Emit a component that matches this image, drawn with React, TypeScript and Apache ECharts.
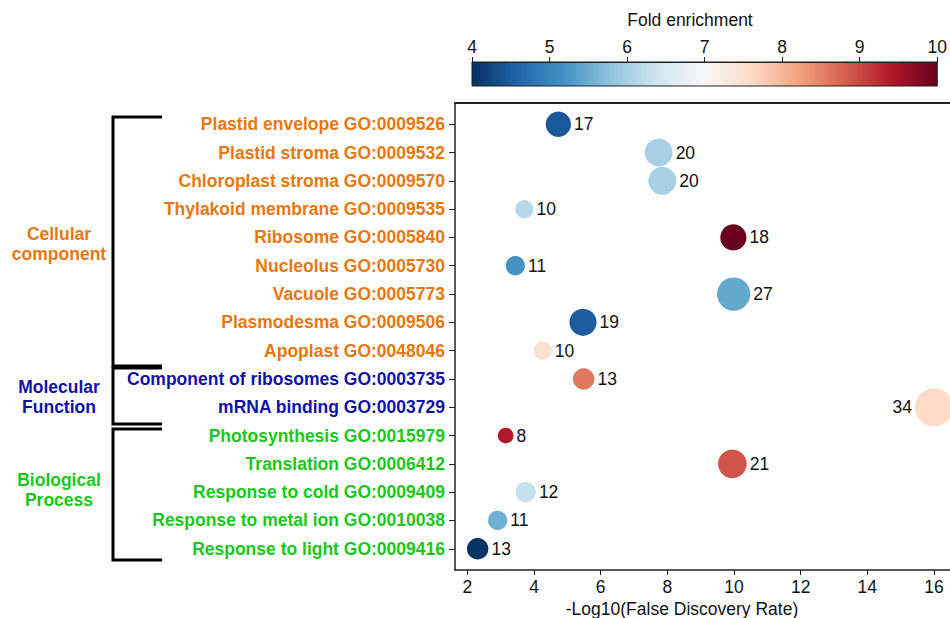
import React, { useEffect, useRef } from 'react';
import * as echarts from 'echarts';

const categories = [
  'Plastid envelope GO:0009526',
  'Plastid stroma GO:0009532',
  'Chloroplast stroma GO:0009570',
  'Thylakoid membrane GO:0009535',
  'Ribosome GO:0005840',
  'Nucleolus GO:0005730',
  'Vacuole GO:0005773',
  'Plasmodesma GO:0009506',
  'Apoplast GO:0048046',
  'Component of ribosomes GO:0003735',
  'mRNA binding GO:0003729',
  'Photosynthesis GO:0015979',
  'Translation GO:0006412',
  'Response to cold GO:0009409',
  'Response to metal ion GO:0010038',
  'Response to light GO:0009416',
];
const groupOf = ['cc', 'cc', 'cc', 'cc', 'cc', 'cc', 'cc', 'cc', 'cc', 'mf', 'mf', 'bp', 'bp', 'bp', 'bp', 'bp'];
const negLogFdr = [4.73, 7.74, 7.85, 3.71, 9.98, 3.44, 9.99, 5.47, 4.26, 5.49, 16.0, 3.15, 9.95, 3.75, 2.91, 2.31];
const foldEnrichment = [4.45, 6.0, 6.0, 6.15, 10.0, 5.2, 5.45, 4.5, 7.5, 8.6, 7.6, 9.4, 8.9, 6.3, 5.55, 4.05];
const geneCounts = [17, 20, 20, 10, 18, 11, 27, 19, 10, 13, 34, 8, 21, 12, 11, 13];
const xTicks = [2, 4, 6, 8, 10, 12, 14, 16];
const rdbu = ['#053061', '#2166ac', '#4393c3', '#92c5de', '#d1e5f0', '#f7f7f7', '#fddbc7', '#f4a582', '#d6604d', '#b2182b', '#67001f'];
const groupColors: Record<string, string> = { cc: '#e8770c', mf: '#1212a6', bp: '#19c819' };

export default function App() {
  const ref = useRef<HTMLDivElement>(null);
  useEffect(() => {
    const chart = echarts.init(ref.current!, null, { renderer: 'svg' });
    const font = '"Liberation Sans", Arial, Helvetica, sans-serif';
    const rowIdx = categories.map((_, i) => i);
    const data = categories.map((c, i) => ({
      name: c,
      value: [negLogFdr[i], i, foldEnrichment[i], geneCounts[i]],
      label: negLogFdr[i] > 15 ? { position: 'left' } : undefined,
    }));
    const rich: any = {};
    Object.keys(groupColors).forEach((k) => {
      rich[k] = { color: groupColors[k], fontWeight: 'bold', fontSize: 17.5, fontFamily: font };
    });
    const txt = (text: string, x: number, y: number, color: string, bold = true) => ({
      type: 'text',
      style: {
        text, x, y, fill: color, align: 'center', verticalAlign: 'middle',
        fontSize: 17.5, fontWeight: bold ? 'bold' : 'normal', fontFamily: font, lineHeight: 20,
      },
    });
    const bracket = (pts: number[][]) => ({
      type: 'polyline',
      shape: { points: pts },
      style: { stroke: '#000', lineWidth: 3, fill: 'none' },
    });
    const axisColor = '#222';
    chart.setOption({
      animation: false,
      backgroundColor: '#fff',
      grid: [
        { left: 455, top: 103, right: 0, height: 467 },
        {
          left: 472, top: 62, width: 468, height: 24, show: true, borderColor: axisColor, borderWidth: 1,
          backgroundColor: new echarts.graphic.LinearGradient(0, 0, 1, 0,
            rdbu.map((c, i) => ({ offset: i / (rdbu.length - 1), color: c }))),
        },
      ],
      xAxis: [
        {
          gridIndex: 0, type: 'value', min: 1.63, max: 16.48,
          axisLine: { show: true, onZero: false, lineStyle: { color: axisColor, width: 1.5 } },
          axisTick: { show: true, customValues: xTicks, length: 5, lineStyle: { color: axisColor } },
          axisLabel: { customValues: xTicks, fontSize: 17.5, color: '#111', margin: 8, fontFamily: font },
          splitLine: { show: false },
        },
        {
          gridIndex: 1, type: 'value', position: 'top', min: 4, max: 10, interval: 1,
          axisLine: { show: true, onZero: false, lineStyle: { color: axisColor } },
          axisTick: { show: true, length: 5, lineStyle: { color: axisColor } },
          axisLabel: { fontSize: 17.5, color: '#111', margin: 6, fontFamily: font },
          splitLine: { show: false },
        },
        {
          gridIndex: 0, type: 'value', position: 'top', min: 1.63, max: 16.48,
          axisLine: { show: true, onZero: false, lineStyle: { color: axisColor, width: 2 } },
          axisTick: { show: false }, axisLabel: { show: false }, splitLine: { show: false },
        },
      ],
      yAxis: [
        {
          gridIndex: 0, type: 'value', inverse: true, min: -0.75, max: 15.75,
          axisLine: { show: true, onZero: false, lineStyle: { color: axisColor, width: 1.5 } },
          axisTick: { show: true, customValues: rowIdx, length: 6, lineStyle: { color: axisColor } },
          axisLabel: {
            customValues: rowIdx, margin: 10,
            formatter: (v: number) => `{${groupOf[v]}|${categories[v]}}`,
            rich,
          },
          splitLine: { show: false },
        },
        { gridIndex: 1, type: 'value', min: 0, max: 1, show: false },
      ],
      visualMap: {
        show: false, type: 'continuous', min: 4, max: 10, dimension: 2, seriesIndex: 0,
        inRange: { color: rdbu },
      },
      series: [
        {
          type: 'scatter', xAxisIndex: 0, yAxisIndex: 0, data,
          symbolSize: (val: number[]) => 7.43 * Math.sqrt(val[3]) - 5.3,
          itemStyle: { opacity: 1 },
          label: {
            show: true, position: 'right', distance: 3,
            formatter: (p: any) => String(p.value[3]),
            fontSize: 17.5, color: '#111', fontFamily: font,
          },
        },
      ],
      graphic: [
        bracket([[162, 117], [113, 117], [113, 366], [162, 366]]),
        bracket([[162, 368], [113, 368], [113, 424], [162, 424]]),
        bracket([[162, 429], [113, 429], [113, 560], [162, 560]]),
        txt('Cellular\ncomponent', 59, 244, groupColors.cc),
        txt('Molecular\nFunction', 59, 397, groupColors.mf),
        txt('Biological\nProcess', 59, 490, groupColors.bp),
        txt('-Log10(False Discovery Rate)', 682, 609, '#111', false),
        txt('Fold enrichment', 690, 20, '#111', false),
      ],
    });
    return () => chart.dispose();
  }, []);
  return <div ref={ref} style={{ position: 'fixed', left: 0, top: 0, width: 950, height: 618 }} />;
}
